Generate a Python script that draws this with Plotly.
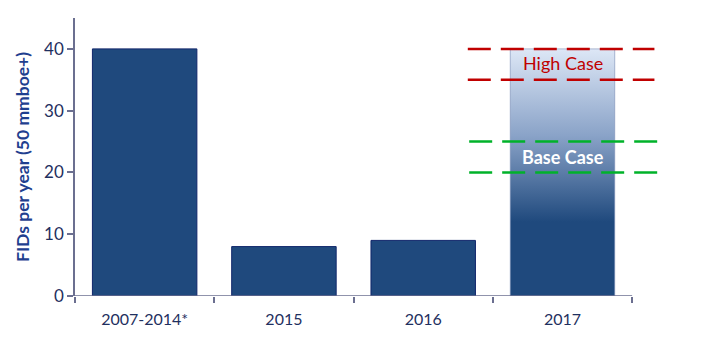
import plotly.graph_objects as go

categories = ["2007-2014*", "2015", "2016", "2017"]
fids = [40, 8, 9, 40]
high_case = [35, 40]
base_case = [20, 25]
y_ticks = [0, 10, 20, 30, 40]

BAR = "#1f497d"
EDGE = "#10266b"
AXIS = "#6b6f90"
TXT = "#1f3060"
FONT = "Lato"
BW = 0.75

idx = list(range(len(categories)))
fig = go.Figure()

# solid bars (historic)
fig.add_trace(go.Bar(x=idx[:3], y=fids[:3], width=BW,
                     marker=dict(color=BAR, line=dict(color=EDGE, width=1)),
                     hoverinfo="skip", showlegend=False))

# gradient bar (2017 outlook)
i = idx[3]
fig.add_trace(go.Scatter(
    x=[i - BW / 2, i + BW / 2, i + BW / 2, i - BW / 2, i - BW / 2],
    y=[0, 0, fids[3], fids[3], 0],
    mode="lines", fill="toself",
    line=dict(color="rgba(120,140,180,0.6)", width=1),
    fillgradient=dict(type="vertical", start=0, stop=fids[3],
                      colorscale=[[0, BAR], [0.3, BAR], [0.65, "#8aa3c8"], [1, "#dde7f6"]]),
    hoverinfo="skip", showlegend=False))

# dashed scenario lines
x_left, x_right = 2.32, 3.66
for v in high_case:
    fig.add_shape(type="line", xref="x", yref="y", x0=x_left, x1=x_right, y0=v, y1=v,
                  line=dict(color="#c00000", width=2.5, dash="23px,10px"))
for v in base_case:
    fig.add_shape(type="line", xref="x", yref="y", x0=x_left + 0.01, x1=x_right + 0.03, y0=v, y1=v,
                  line=dict(color="#00b22a", width=2.5, dash="23px,10px"))

# x baseline
fig.add_shape(type="line", xref="x", yref="y", x0=-0.515, x1=3.5, y0=0, y1=0,
              line=dict(color=AXIS, width=1.5))

fig.add_annotation(x=i, y=(high_case[0] + high_case[1]) / 2 + 0.2, text="High Case",
                   showarrow=False, font=dict(family=FONT, size=18, color="#c00000"))
fig.add_annotation(x=i, y=(base_case[0] + base_case[1]) / 2, text="<b>Base Case</b>",
                   showarrow=False, font=dict(family=FONT, size=18, color="white"))

fig.update_layout(
    width=720, height=358,
    margin=dict(l=75, r=60, t=18, b=62),
    paper_bgcolor="white", plot_bgcolor="white",
    font=dict(family=FONT, color=TXT),
    xaxis=dict(range=[-0.5, 3.7], tickmode="array", tickvals=idx, ticktext=categories,
               ticks="", showline=False, showgrid=False, zeroline=False,
               ticklabelstandoff=12,
               tickfont=dict(size=16, color=TXT),
               minor=dict(tickmode="array", tickvals=[-0.5, 0.5, 1.5, 2.5, 3.5],
                          ticks="outside", ticklen=6, tickcolor=AXIS, tickwidth=1.5,
                          showgrid=False)),
    yaxis=dict(range=[0, 45], tickmode="array", tickvals=y_ticks,
               ticks="outside", ticklen=6, tickcolor=AXIS, tickwidth=1.5,
               showline=True, linecolor=AXIS, linewidth=1.5,
               showgrid=False, zeroline=False,
               tickfont=dict(size=17, color=TXT),
               title=dict(text="<b>FIDs per year (50 mmboe+)</b>",
                          font=dict(size=17.5, color="#1f3f8f"), standoff=10)),
)

fig.write_html("out.html")
